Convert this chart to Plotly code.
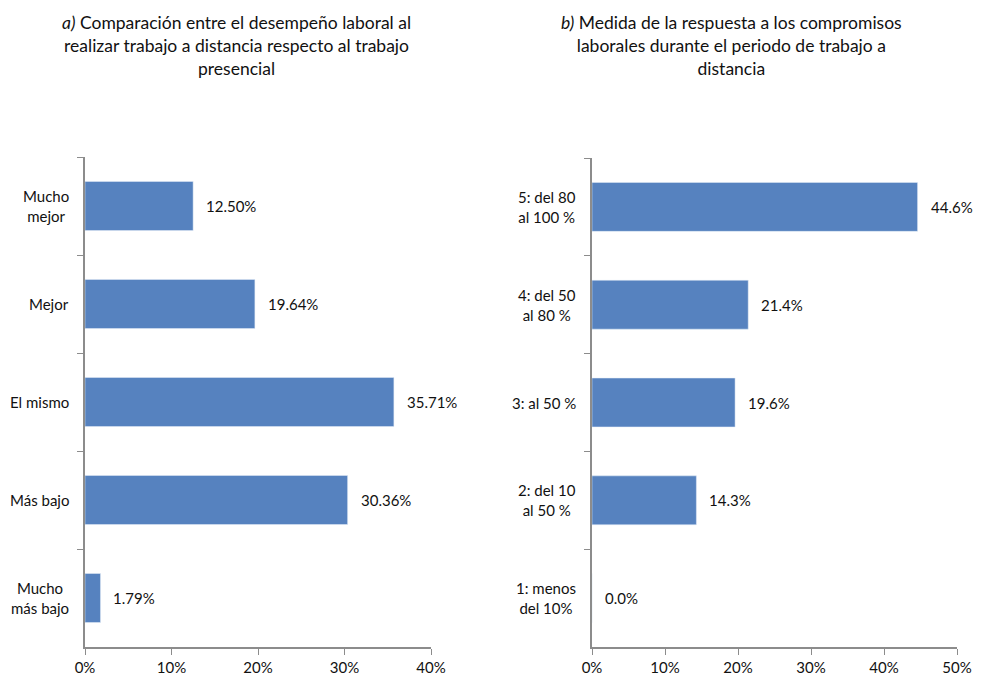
import plotly.graph_objects as go

BAR_COLOR = "#5682BF"
AXIS_COLOR = "#8C8C8C"
FONT = "Lato"

# page body has an 8px margin, so the figure is drawn 16px smaller and the
# whole layout is nudged a few px up/left so nothing is clipped
W, H = 966, 669
OFF_X, OFF_Y = 14, 12


def px_x(v):
    return (v - OFF_X) / W


def px_y(v):
    return 1 - (v - OFF_Y) / H


# a) desempeño laboral (top to bottom)
cats_a = ["Mucho<br>mejor", "Mejor", "El mismo", "Más bajo", "Mucho<br>más bajo"]
vals_a = [12.50, 19.64, 35.71, 30.36, 1.79]
title_a = "<i>a)</i> Comparación entre el desempeño laboral al<br>realizar trabajo a distancia respecto al trabajo<br>presencial"

# b) respuesta a compromisos (top to bottom)
cats_b = ["5: del 80<br>al 100 %", "4: del 50<br>al 80 %", "3: al 50 %", "2: del 10<br>al 50 %", "1: menos<br>del 10%"]
vals_b = [44.6, 21.4, 19.6, 14.3, 0.0]
title_b = "<i>b)</i> Medida de la respuesta a los compromisos<br>laborales durante el periodo de trabajo a<br>distancia"

fig = go.Figure()
fig.add_bar(x=vals_a, y=cats_a, orientation="h", marker_color=BAR_COLOR,
            xaxis="x", yaxis="y", showlegend=False, hoverinfo="skip")
fig.add_bar(x=vals_b, y=cats_b, orientation="h", marker_color=BAR_COLOR,
            xaxis="x2", yaxis="y2", showlegend=False, hoverinfo="skip")

annotations = []
for cats, vals, fmt, xr, yr in [(cats_a, vals_a, "{:.2f}%", "x", "y"),
                                (cats_b, vals_b, "{:.1f}%", "x2", "y2")]:
    for c, v in zip(cats, vals):
        # value label after the bar
        annotations.append(dict(x=v, y=c, xref=xr, yref=yr, text=fmt.format(v),
                                showarrow=False, xanchor="left", xshift=11,
                                font=dict(size=15)))
        # category label, centred multi-line
        annotations.append(dict(x=0, y=c, xref=f"{xr} domain", yref=yr, text=c,
                                showarrow=False, xanchor="right", align="center",
                                xshift=-14, font=dict(size=15)))

for title, cx in [(title_a, 242), (title_b, 737)]:
    annotations.append(dict(x=px_x(cx), y=px_y(49), xref="paper", yref="paper",
                            text=title, showarrow=False, xanchor="center",
                            yanchor="middle", align="center", font=dict(size=17.5)))

xcommon = dict(showgrid=False, zeroline=False, showline=True, linecolor=AXIS_COLOR,
               linewidth=1.5, ticks="outside", ticklen=6, tickcolor=AXIS_COLOR,
               ticksuffix="%", dtick=10, tickfont=dict(size=15), automargin=False)
ycommon = dict(showgrid=False, zeroline=False, showline=True, linecolor=AXIS_COLOR,
               linewidth=1.5, ticks="outside", ticklen=6, tickcolor=AXIS_COLOR,
               tickson="boundaries", showticklabels=False, type="category",
               automargin=False)

fig.update_layout(
    width=W, height=H,
    margin=dict(l=0, r=0, t=0, b=0, autoexpand=False),
    plot_bgcolor="white", paper_bgcolor="white",
    font=dict(family=FONT, color="#111111"),
    bargap=0.5,
    xaxis=dict(domain=[px_x(91), px_x(437)], range=[0, 40], anchor="y", **xcommon),
    yaxis=dict(domain=[px_y(651), px_y(161)], range=[4.5, -0.5],
               anchor="x", **ycommon),
    xaxis2=dict(domain=[px_x(598), px_x(963)], range=[0, 50], anchor="y2", **xcommon),
    yaxis2=dict(domain=[px_y(651), px_y(162)], range=[4.5, -0.5],
                anchor="x2", **ycommon),
    annotations=annotations,
)

fig.write_html("out.html")
